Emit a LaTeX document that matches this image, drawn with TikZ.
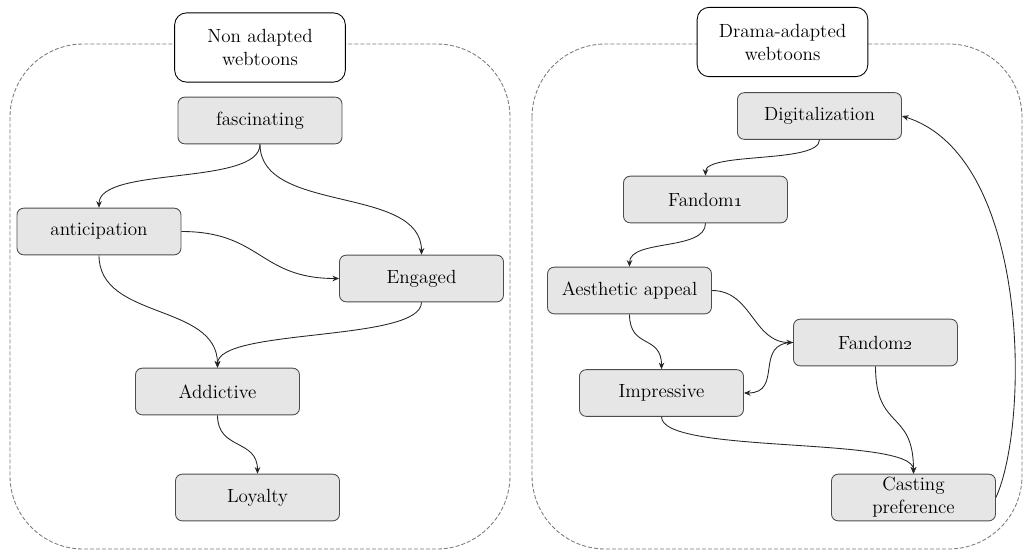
\documentclass[tikz,border=0pt]{standalone}
\usetikzlibrary{arrows.meta}
\definecolor{boxfill}{HTML}{E6E6E6}
\definecolor{boxline}{HTML}{4D4D4D}
\definecolor{panelline}{HTML}{7A7A7A}
\begin{document}
\begin{tikzpicture}[x=0.75pt,y=-0.75pt,
  font=\fontsize{14.3}{17.25}\selectfont,
  box/.style={draw=boxline, fill=boxfill, line width=0.65pt, rounded corners=5pt,
    minimum width=123pt, minimum height=35pt, inner sep=0pt, align=center},
  titlebox/.style={draw=black, fill=white, line width=0.65pt, rounded corners=9pt,
    minimum width=128pt, minimum height=52pt, inner sep=0pt, align=center},
  panel/.style={draw=panelline, dash pattern=on 3pt off 1.5pt, line width=0.65pt,
    rounded corners=55pt},
  link/.style={-{Stealth[length=5pt,width=4.2pt]}, draw=black!85, line width=0.65pt}]

\useasboundingbox (0,0) rectangle (1025,551);

% dashed group frames
\draw[panel] (10,44) rectangle (510,549);
\draw[panel] (532,44) rectangle (1022,549);

% group titles
\node[titlebox] (tl) at (260,47.5) {Non adapted\\webtoons};
\node[titlebox] (tr) at (782.5,42) {Drama-adapted\\webtoons};

% non adapted webtoons
\node[box] (fas) at (260,120.5) {fascinating};
\node[box] (ant) at (99,231.5) {anticipation};
\node[box] (eng) at (421.5,278.5) {Engaged};
\node[box] (add) at (217.5,391.5) {Addictive};
\node[box] (loy) at (257.5,497.5) {Loyalty};

% drama-adapted webtoons
\node[box] (dig) at (819.5,116) {Digitalization};
\node[box] (fd1) at (705.5,199.5) {Fandom\oldstylenums{1}};
\node[box] (aes) at (629.5,290.5) {Aesthetic appeal};
\node[box] (fd2) at (875.5,342.5) {Fandom\oldstylenums{2}};
\node[box] (imp) at (661.5,393) {Impressive};
\node[box] (cas) at (913.5,497.5) {Casting\\preference};

% links, left group
\draw[link] (fas.south) .. controls +(0,42) and +(0,-42) .. (ant.north);
\draw[link] (fas.south) .. controls +(0,70) and +(0,-70) .. (eng.north);
\draw[link] (ant.east) .. controls +(80,0) and +(-80,0) .. (eng.west);
\draw[link] (ant.south) .. controls +(0,65) and +(0,-65) .. (add.north);
\draw[link] (eng.south) .. controls +(0,40) and +(0,-40) .. (add.north);
\draw[link] (add.south) .. controls +(0,35) and +(0,-35) .. (loy.north);

% links, right group
\draw[link] (dig.south) .. controls +(0,24) and +(0,-24) .. (fd1.north);
\draw[link] (fd1.south) .. controls +(0,28) and +(0,-28) .. (aes.north);
\draw[link] (aes.east) .. controls +(40,0) and +(-40,0) .. (fd2.west);
\draw[link] (aes.south) .. controls +(0,35) and +(0,-35) .. (imp.north);
\draw[link] (fd2.west) .. controls +(-40,0) and +(40,0) .. (imp.east);
\draw[link] (imp.south) .. controls +(0,38) and +(0,-38) .. (cas.north);
\draw[link] (fd2.south) .. controls +(0,65) and +(0,-65) .. (cas.north);
\draw[link] (cas.east) .. controls +(34,-75) and +(128,40) .. (dig.east);

\end{tikzpicture}
\end{document}
